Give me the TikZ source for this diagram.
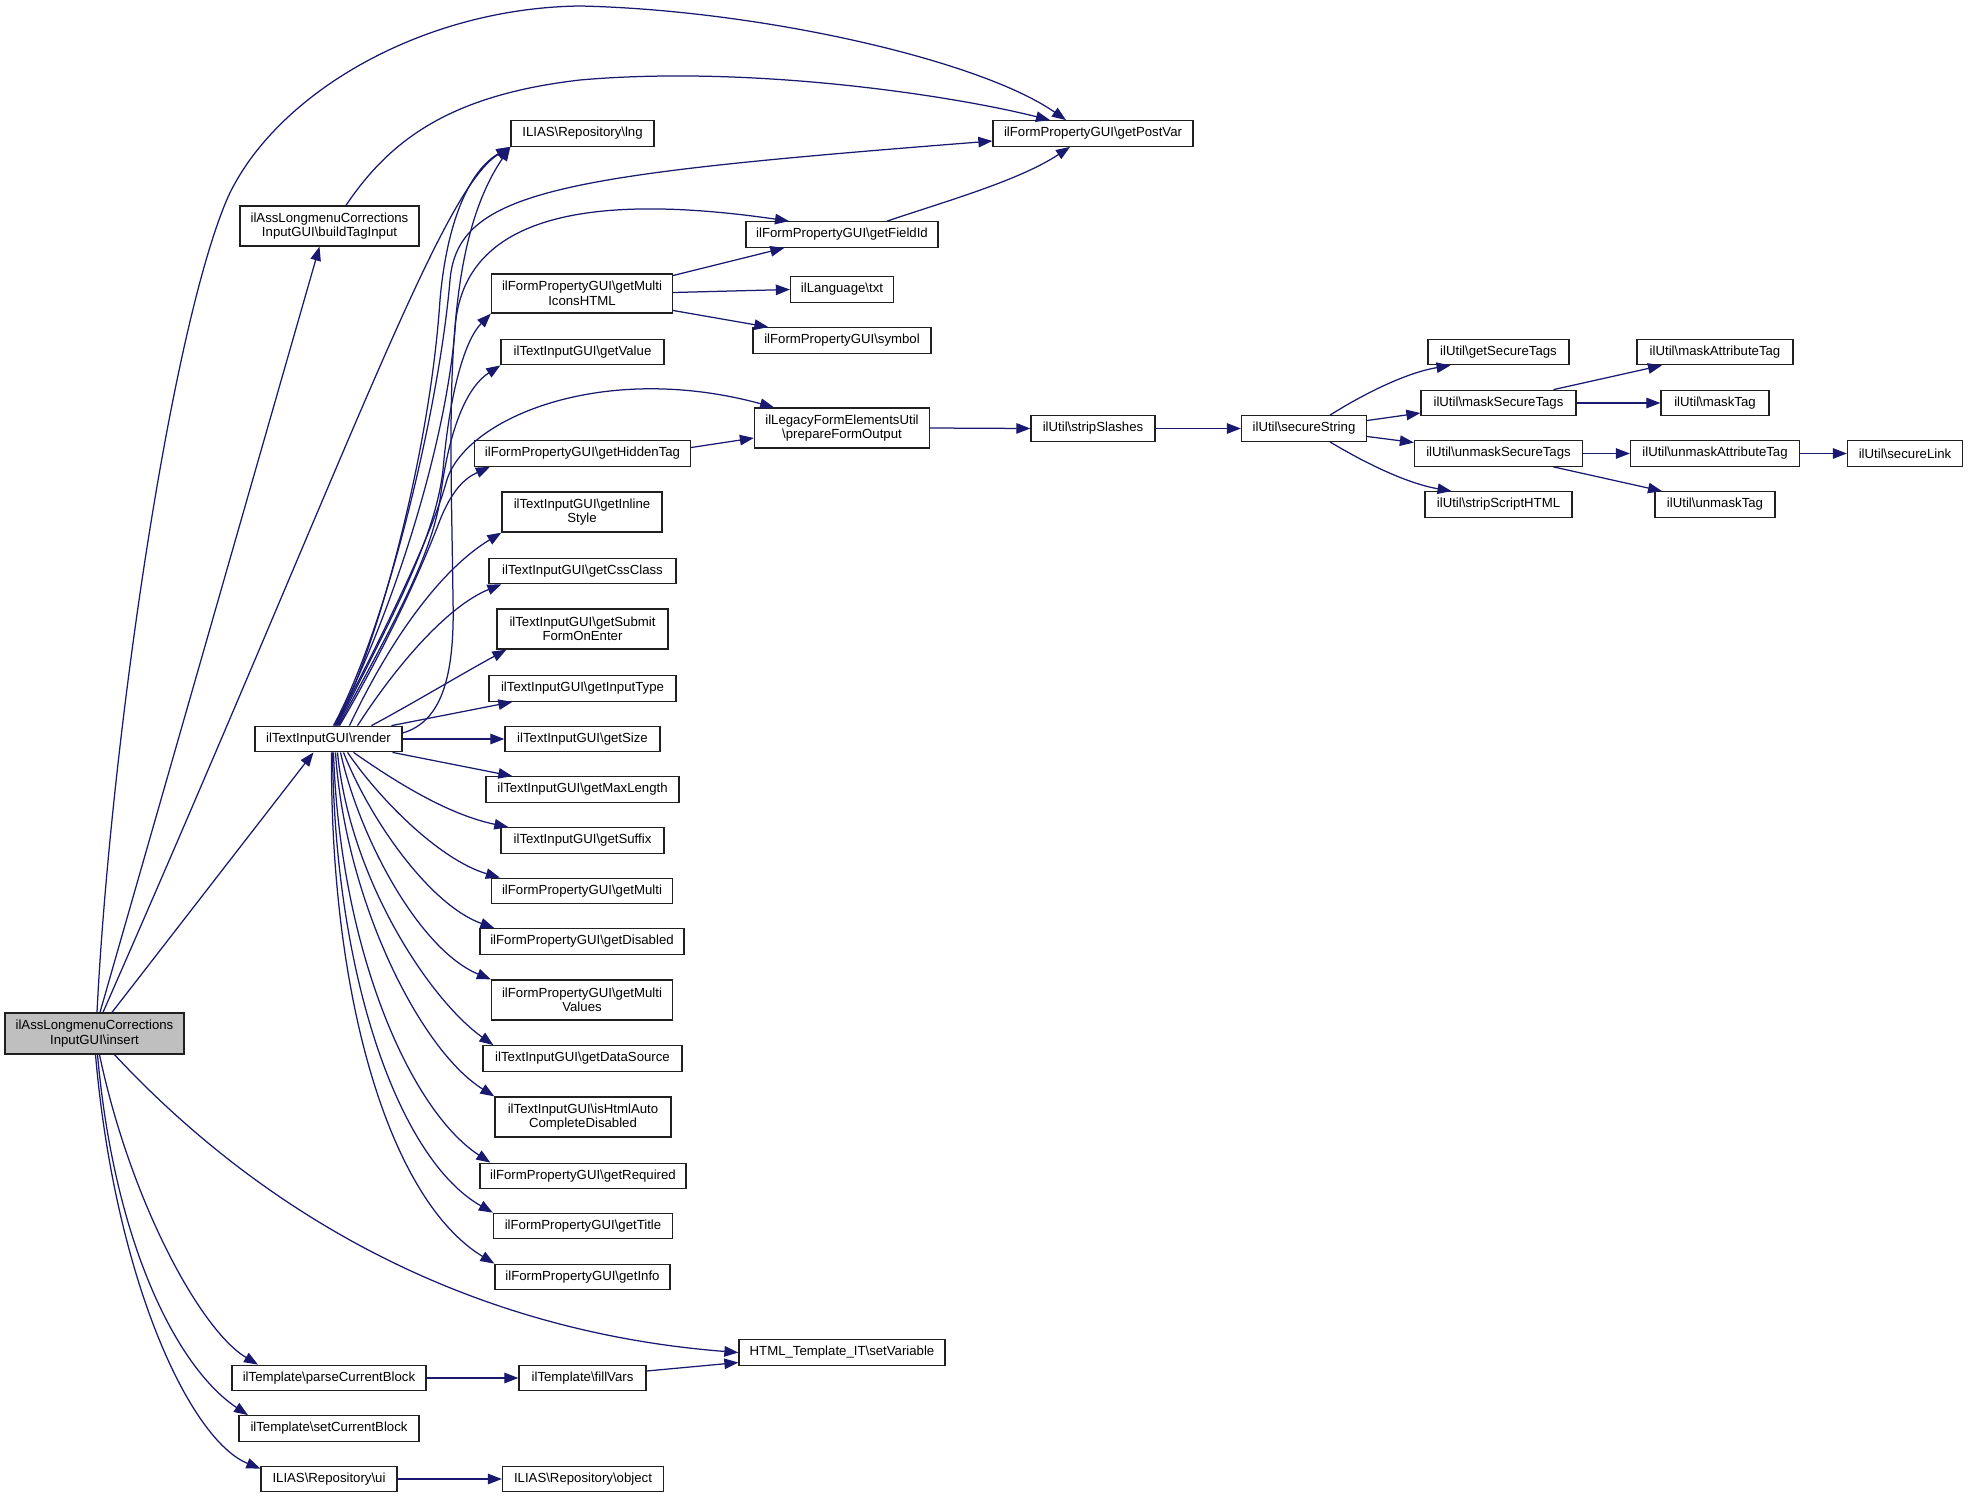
\documentclass[tikz,border=0pt]{standalone}
\usepackage{fontspec}
\setmainfont{Liberation Sans}
\usetikzlibrary{arrows.meta}
\definecolor{navy}{HTML}{191970}
\definecolor{boxgray}{HTML}{BFBFBF}
\definecolor{boxline}{HTML}{202020}
\begin{document}
\begin{tikzpicture}[x=1pt,y=-1pt,
  box/.style={draw=boxline, line width=1.3pt, fill=white, inner sep=0pt, align=center,
    font=\fontsize{13.2}{14.5}\selectfont},
  sb/.style={box, minimum width=#1, minimum height=25.5pt},
  db/.style={box, minimum width=#1, minimum height=40pt},
  conn/.style={draw=navy, line width=1.25pt, -{Triangle[length=14pt,width=10.5pt]}}]
\useasboundingbox (0,0) rectangle (1968,1499);
\fill[white] (0,0) rectangle (1968,1499);

% nodes
\node[db=179pt, minimum height=41pt, fill=boxgray] (insert) at (94.5,1033.5) {ilAssLongmenuCorrections\\InputGUI\textbackslash insert};
\node[db=179pt] (buildTag) at (329.5,226) {ilAssLongmenuCorrections\\InputGUI\textbackslash buildTagInput};
\node[sb=143pt] (lng) at (582.5,133.5) {ILIAS\textbackslash Repository\textbackslash lng};
\node[sb=200pt] (postvar) at (1093,133.5) {ilFormPropertyGUI\textbackslash getPostVar};
\node[sb=192pt] (fieldid) at (842,234.5) {ilFormPropertyGUI\textbackslash getFieldId};
\node[db=181pt, minimum height=39pt] (multiicons) at (582,293.5) {ilFormPropertyGUI\textbackslash getMulti\\IconsHTML};
\node[sb=103pt] (txt) at (842,289.5) {ilLanguage\textbackslash txt};
\node[sb=178pt] (symbol) at (842,340.5) {ilFormPropertyGUI\textbackslash symbol};
\node[sb=163pt] (getvalue) at (582.5,352) {ilTextInputGUI\textbackslash getValue};
\node[db=175pt] (prepare) at (842,428) {ilLegacyFormElementsUtil\\\textbackslash prepareFormOutput};
\node[sb=124pt] (strip) at (1093,428.5) {ilUtil\textbackslash stripSlashes};
\node[sb=125pt] (secure) at (1304,428.5) {ilUtil\textbackslash secureString};
\node[sb=141pt] (getsectags) at (1498.5,352) {ilUtil\textbackslash getSecureTags};
\node[sb=155pt] (masksec) at (1498.5,403) {ilUtil\textbackslash maskSecureTags};
\node[sb=168pt] (unmasksec) at (1498.5,453.5) {ilUtil\textbackslash unmaskSecureTags};
\node[sb=147pt] (stripscript) at (1498.5,504.5) {ilUtil\textbackslash stripScriptHTML};
\node[sb=156pt] (maskattr) at (1715,352) {ilUtil\textbackslash maskAttributeTag};
\node[sb=108pt] (masktag) at (1715,403) {ilUtil\textbackslash maskTag};
\node[sb=169pt] (unmaskattr) at (1715,453.5) {ilUtil\textbackslash unmaskAttributeTag};
\node[sb=120pt] (unmasktag) at (1715,504.5) {ilUtil\textbackslash unmaskTag};
\node[sb=115pt] (securelink) at (1905,453.5) {ilUtil\textbackslash secureLink};
\node[sb=216pt] (hidden) at (582.5,453.5) {ilFormPropertyGUI\textbackslash getHiddenTag};
\node[db=160pt] (inline) at (582,512) {ilTextInputGUI\textbackslash getInline\\Style};
\node[sb=187pt] (cssclass) at (582.5,571) {ilTextInputGUI\textbackslash getCssClass};
\node[db=171pt] (submit) at (582.5,629) {ilTextInputGUI\textbackslash getSubmit\\FormOnEnter};
\node[sb=187pt] (inputtype) at (582.5,688.5) {ilTextInputGUI\textbackslash getInputType};
\node[sb=155pt] (getsize) at (582.5,739) {ilTextInputGUI\textbackslash getSize};
\node[sb=147pt] (render) at (328.5,739) {ilTextInputGUI\textbackslash render};
\node[sb=193pt] (maxlen) at (582.5,789.5) {ilTextInputGUI\textbackslash getMaxLength};
\node[sb=163pt] (suffix) at (582.5,840.5) {ilTextInputGUI\textbackslash getSuffix};
\node[sb=181pt] (getmulti) at (582,891) {ilFormPropertyGUI\textbackslash getMulti};
\node[sb=204pt] (disabled) at (582,941.5) {ilFormPropertyGUI\textbackslash getDisabled};
\node[db=181pt] (multivalues) at (582,1000) {ilFormPropertyGUI\textbackslash getMulti\\Values};
\node[sb=199pt] (datasource) at (582.5,1058.5) {ilTextInputGUI\textbackslash getDataSource};
\node[db=176pt] (htmlauto) at (583,1117) {ilTextInputGUI\textbackslash isHtmlAuto\\CompleteDisabled};
\node[sb=206pt] (required) at (583,1176) {ilFormPropertyGUI\textbackslash getRequired};
\node[sb=179pt] (title) at (583,1226) {ilFormPropertyGUI\textbackslash getTitle};
\node[sb=175pt] (info) at (582.5,1277) {ilFormPropertyGUI\textbackslash getInfo};
\node[sb=206pt] (setvar) at (842,1352.5) {HTML\_Template\_IT\textbackslash setVariable};
\node[sb=194pt] (parse) at (329,1378) {ilTemplate\textbackslash parseCurrentBlock};
\node[sb=127pt] (fillvars) at (582.5,1378) {ilTemplate\textbackslash fillVars};
\node[sb=180pt] (setcur) at (329,1428.5) {ilTemplate\textbackslash setCurrentBlock};
\node[sb=136pt] (ui) at (329,1479) {ILIAS\textbackslash Repository\textbackslash ui};
\node[sb=161pt] (object) at (583,1479) {ILIAS\textbackslash Repository\textbackslash object};

% edges from insert
\draw[conn] ([xshift=2.5pt]insert.north) .. controls (110,750) and (170,330) .. (228,197)
  .. controls (275,95) and (420,8) .. (580,6) .. controls (760,10) and (980,60) .. ([xshift=-27pt]postvar.north);
\draw[conn] ([xshift=5.5pt]insert.north) -- ([xshift=-10pt]buildTag.south);
\draw[conn] ([xshift=8.5pt]insert.north) .. controls (350,450) and (440,190) .. (lng.south west);
\draw[conn] ([xshift=17.5pt]insert.north) -- ([xshift=-15pt]render.south);
\draw[conn] ([xshift=20pt]insert.south) .. controls (250,1200) and (450,1330) .. (setvar.west);
\draw[conn] ([xshift=5pt]insert.south) .. controls (130,1200) and (200,1330) .. ([xshift=-71pt]parse.north);
\draw[conn] ([xshift=3pt]insert.south) .. controls (115,1250) and (180,1370) .. ([xshift=-81pt]setcur.north);
\draw[conn] ([xshift=1pt]insert.south) .. controls (115,1280) and (190,1440) .. ([yshift=-3pt]ui.north west);

% buildTagInput
\draw[conn] ([xshift=16.5pt]buildTag.north) .. controls (390,140) and (450,95) .. (580,80)
  .. controls (750,65) and (950,95) .. ([xshift=-43pt]postvar.north);

% render upward
\draw[conn] ([xshift=5pt]render.north) .. controls (390,620) and (440,400) .. (450,280)
  .. controls (458,190) and (560,175) .. ([yshift=-7.5pt]postvar.west);
\draw[conn] ([xshift=6pt]render.north) .. controls (390,620) and (445,450) .. (455,330)
  .. controls (460,240) and (540,185) .. ([xshift=-53pt]fieldid.north);
\draw[conn] ([xshift=7pt]render.north) .. controls (380,640) and (430,540) .. (446,483)
  .. controls (462,420) and (600,360) .. ([xshift=-68pt]prepare.north);
\draw[conn] ([xshift=8pt]render.north) .. controls (380,640) and (430,450) .. (440,300)
  .. controls (447,220) and (470,170) .. (lng.south west);
\draw[conn] ([yshift=6pt]render.east) .. controls (440,722) and (455,680) .. (453,600)
  .. controls (451,420) and (440,250) .. (lng.south west);
\draw[conn] ([xshift=9pt]render.north) .. controls (390,620) and (435,540) .. (443,470)
  .. controls (450,390) and (465,340) .. (multiicons.south west);
\draw[conn] ([xshift=10pt]render.north) .. controls (390,630) and (430,560) .. (440,500)
  .. controls (450,420) and (470,385) .. (getvalue.south west);
\draw[conn] ([xshift=11pt]render.north) .. controls (390,640) and (425,560) .. (440,520)
  .. controls (452,490) and (465,478) .. ([xshift=16pt]hidden.south west);
\draw[conn] ([xshift=21pt]render.north) .. controls (390,640) and (440,570) .. (inline.south west);
\draw[conn] ([xshift=29pt]render.north) .. controls (400,660) and (450,605) .. ([xshift=13pt]cssclass.south west);
\draw[conn] ([xshift=43pt]render.north) .. controls (410,705) and (460,675) .. ([xshift=10pt]submit.south west);
\draw[conn] ([xshift=63pt]render.north) -- ([xshift=24pt]inputtype.south west);
\draw[conn] (render.east) -- (getsize.west);
% render downward
\draw[conn] ([xshift=64pt]render.south) -- ([xshift=27pt]maxlen.north west);
\draw[conn] ([xshift=25pt]render.south) .. controls (400,785) and (450,815) .. ([xshift=8pt]suffix.north west);
\draw[conn] ([xshift=19pt]render.south) .. controls (380,800) and (440,860) .. ([xshift=9pt]getmulti.north west);
\draw[conn] ([xshift=15pt]render.south) .. controls (370,820) and (430,905) .. ([xshift=15pt]disabled.north west);
\draw[conn] ([xshift=12pt]render.south) .. controls (360,840) and (420,950) .. (multivalues.north west);
\draw[conn] ([xshift=9pt]render.south) .. controls (350,880) and (430,1000) .. ([xshift=11pt]datasource.north west);
\draw[conn] ([xshift=7pt]render.south) .. controls (345,900) and (420,1050) .. (htmlauto.north west);
\draw[conn] ([xshift=5pt]render.south) .. controls (340,950) and (410,1110) .. ([xshift=11pt]required.north west);
\draw[conn] ([xshift=4pt]render.south) .. controls (335,980) and (400,1160) .. (title.north west);
\draw[conn] ([xshift=3pt]render.south) .. controls (330,1000) and (390,1200) .. (info.north west);

% getMultiIconsHTML
\draw[conn] ([yshift=18pt]multiicons.east) -- ([xshift=39pt]fieldid.south west);
\draw[conn] ([yshift=1pt]multiicons.east) -- (txt.west);
\draw[conn] ([yshift=-17pt]multiicons.east) -- ([xshift=16pt]symbol.north west);
% getFieldId
\draw[conn] ([xshift=45pt]fieldid.north) .. controls (950,200) and (1020,180) .. ([xshift=-23pt]postvar.south);
% hidden tag
\draw[conn] ([yshift=6pt]hidden.east) -- ([yshift=-10pt]prepare.west);
\draw[conn] (prepare.east) -- (strip.west);
\draw[conn] (strip.east) -- (secure.west);
% secureString
\draw[conn] ([xshift=26pt]secure.north) .. controls (1370,390) and (1410,372) .. ([xshift=-48pt]getsectags.south);
\draw[conn] ([yshift=8pt]secure.east) -- ([yshift=-10pt]masksec.west);
\draw[conn] ([yshift=-8pt]secure.east) -- ([yshift=11pt]unmasksec.west);
\draw[conn] ([xshift=26pt]secure.south) .. controls (1370,466) and (1410,484) .. ([xshift=-47pt]stripscript.north);
\draw[conn] ([xshift=55pt]masksec.north) -- ([xshift=-53pt]maskattr.south);
\draw[conn] (masksec.east) -- (masktag.west);
\draw[conn] (unmasksec.east) -- (unmaskattr.west);
\draw[conn] ([xshift=55pt]unmasksec.south) -- ([xshift=-53pt]unmasktag.north);
\draw[conn] (unmaskattr.east) -- (securelink.west);
% templates
\draw[conn] (parse.east) -- (fillvars.west);
\draw[conn] ([yshift=7pt]fillvars.east) -- ([yshift=-10pt]setvar.west);
\draw[conn] (ui.east) -- (object.west);
\end{tikzpicture}
\end{document}
